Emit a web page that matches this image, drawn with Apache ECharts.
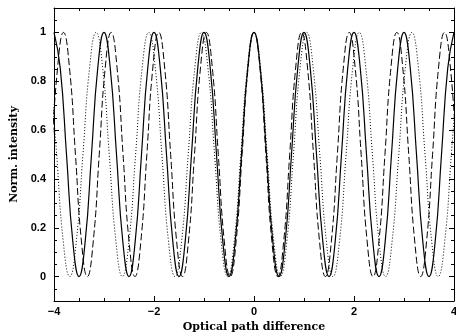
<!DOCTYPE html>
<html>
<head>
<meta charset="utf-8">
<script src="https://cdn.jsdelivr.net/npm/echarts@6/dist/echarts.min.js"></script>
<style>
html,body{margin:0;padding:0;background:#fff;}
#showChart{width:456px;height:336px;}
</style>
</head>
<body>
<div id="showChart"></div>
<script>
// x tick labels
var xTicks = [-4, -2, 0, 2, 4];

// solid curve (period 1)
var solidX = [-4,-3.875,-3.75,-3.625,-3.5,-3.375,-3.25,-3.125,-3,-2.875,-2.75,-2.625,-2.5,-2.375,-2.25,-2.125,
  -2,-1.875,-1.75,-1.625,-1.5,-1.375,-1.25,-1.125,-1,-0.875,-0.75,-0.625,-0.5,-0.375,-0.25,-0.125,
  0,0.125,0.25,0.375,0.5,0.625,0.75,0.875,1,1.125,1.25,1.375,1.5,1.625,1.75,1.875,
  2,2.125,2.25,2.375,2.5,2.625,2.75,2.875,3,3.125,3.25,3.375,3.5,3.625,3.75,3.875,4];
var solidY = [1,0.854,0.5,0.146,0,0.146,0.5,0.854, 1,0.854,0.5,0.146,0,0.146,0.5,0.854,
  1,0.854,0.5,0.146,0,0.146,0.5,0.854, 1,0.854,0.5,0.146,0,0.146,0.5,0.854,
  1,0.854,0.5,0.146,0,0.146,0.5,0.854, 1,0.854,0.5,0.146,0,0.146,0.5,0.854,
  1,0.854,0.5,0.146,0,0.146,0.5,0.854, 1,0.854,0.5,0.146,0,0.146,0.5,0.854, 1];

// dashed curve (shorter period)
var dashX = [-4.048,-3.929,-3.810,-3.690,-3.571,-3.452,-3.333,-3.214,-3.095,-2.976,-2.857,-2.738,
  -2.619,-2.500,-2.381,-2.262,-2.143,-2.024,-1.905,-1.786,-1.667,-1.548,-1.429,-1.310,
  -1.190,-1.071,-0.952,-0.833,-0.714,-0.595,-0.476,-0.357,-0.238,-0.119,
  0,0.119,0.238,0.357,0.476,0.595,0.714,0.833,0.952,1.071,1.190,
  1.310,1.429,1.548,1.667,1.786,1.905,2.024,2.143,2.262,2.381,2.500,2.619,
  2.738,2.857,2.976,3.095,3.214,3.333,3.452,3.571,3.690,3.810,3.929,4.048];
var dashY = [0.5,0.854,1,0.854,0.5,0.146,0,0.146, 0.5,0.854,1,0.854,0.5,0.146,0,0.146,
  0.5,0.854,1,0.854,0.5,0.146,0,0.146, 0.5,0.854,1,0.854,0.5,0.146,0,0.146,
  0.5,0.854,1,0.854,0.5,0.146,0,0.146, 0.5,0.854,1,0.854,0.5,0.146,0,0.146,
  0.5,0.854,1,0.854,0.5,0.146,0,0.146, 0.5,0.854,1,0.854,0.5,0.146,0,0.146,
  0.5,0.854,1,0.854,0.5];

// dotted curve (longer period)
var dotX = [-4.079,-3.947,-3.816,-3.684,-3.553,-3.421,-3.289,-3.158,-3.026,-2.895,-2.763,-2.632,
  -2.500,-2.368,-2.237,-2.105,-1.974,-1.842,-1.711,-1.579,-1.447,-1.316,-1.184,-1.053,
  -0.921,-0.789,-0.658,-0.526,-0.395,-0.263,-0.132,
  0,0.132,0.263,0.395,0.526,0.658,0.789,0.921,1.053,1.184,1.316,1.447,1.579,1.711,
  1.842,1.974,2.105,2.237,2.368,2.500,2.632,2.763,2.895,3.026,3.158,3.289,3.421,
  3.553,3.684,3.816,3.947,4.079];
var dotY = [0.854,0.5,0.146,0,0.146,0.5,0.854,1, 0.854,0.5,0.146,0,0.146,0.5,0.854,1,
  0.854,0.5,0.146,0,0.146,0.5,0.854,1, 0.854,0.5,0.146,0,0.146,0.5,0.854,1,
  0.854,0.5,0.146,0,0.146,0.5,0.854,1, 0.854,0.5,0.146,0,0.146,0.5,0.854,1,
  0.854,0.5,0.146,0,0.146,0.5,0.854,1, 0.854,0.5,0.146,0,0.146,0.5,0.854];

function pairs(xs, ys) {
  var out = [];
  for (var i = 0; i < xs.length; i++) out.push([xs[i], ys[i]]);
  return out;
}

var myChart = echarts.init(document.getElementById('showChart'));

var lblFont = { fontFamily: 'Liberation Sans', fontWeight: 'bold', fontSize: 11, color: '#000' };
var nameFont = { fontFamily: 'DejaVu Serif', fontWeight: 'bold', fontSize: 11, color: '#000' };
var axLine = { show: true, onZero: false, lineStyle: { color: '#000', width: 1 } };
var tick = { inside: true, length: 5, lineStyle: { color: '#000' } };
var minor = { show: true, splitNumber: 4, length: 3, lineStyle: { color: '#000' } };

function minus(v) { return String(v).replace('-', '\u2212'); }

var option = {
  animation: false,
  backgroundColor: '#fff',
  grid: { left: 54, right: 2, top: 8, bottom: 35, outerBoundsMode: 'none', containLabel: false },
  xAxis: [{
    type: 'value', min: xTicks[0], max: xTicks[xTicks.length - 1], interval: 2,
    position: 'bottom',
    name: 'Optical path difference', nameLocation: 'middle', nameGap: 20, nameTextStyle: nameFont,
    axisLine: axLine, axisTick: tick, minorTick: minor,
    axisLabel: Object.assign({ margin: 5, formatter: minus }, lblFont),
    splitLine: { show: false }
  }, {
    type: 'value', min: -4, max: 4, interval: 2, position: 'top',
    axisLine: axLine, axisTick: tick, minorTick: minor,
    axisLabel: { show: false },
    splitLine: { show: false }
  }],
  yAxis: [{
    type: 'value', min: -0.1, max: 1.1, splitNumber: 6,
    position: 'left',
    name: 'Norm. intensity', nameLocation: 'middle', nameGap: 29, nameTextStyle: nameFont,
    axisLine: axLine, axisTick: tick, minorTick: minor,
    axisLabel: Object.assign({ margin: 8, showMinLabel: false, showMaxLabel: false }, lblFont),
    splitLine: { show: false }
  }, {
    type: 'value', min: -0.1, max: 1.1, splitNumber: 6, position: 'right',
    axisLine: axLine, axisTick: tick, minorTick: minor,
    axisLabel: { show: false },
    splitLine: { show: false }
  }],
  series: [{
    name: 'solid', type: 'line', smooth: true, showSymbol: false, clip: true,
    lineStyle: { color: '#000', width: 1.2, type: 'solid' },
    data: pairs(solidX, solidY)
  }, {
    name: 'dashed', type: 'line', smooth: true, showSymbol: false, clip: true,
    lineStyle: { color: '#000', width: 1, type: [7, 3] },
    data: pairs(dashX, dashY)
  }, {
    name: 'dotted', type: 'line', smooth: true, showSymbol: false, clip: true,
    lineStyle: { color: '#000', width: 1, type: [1, 2] },
    data: pairs(dotX, dotY)
  }]
};

myChart.setOption(option);
</script>
</body>
</html>
